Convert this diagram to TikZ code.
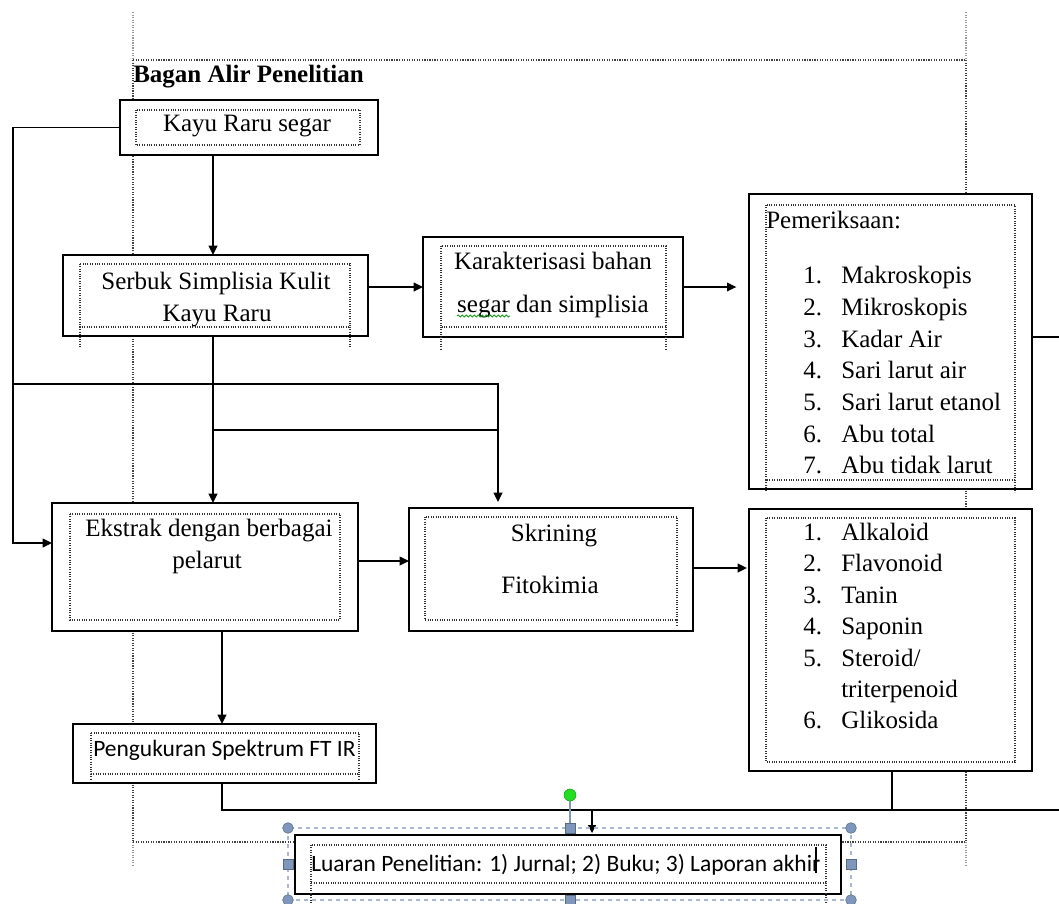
\documentclass[tikz,border=0pt]{standalone}
\usepackage{fontspec}
\setmainfont{Liberation Serif}
\newfontfamily\calfont{Carlito}
\usetikzlibrary{arrows.meta,fit,decorations.pathmorphing}
\definecolor{hblue}{HTML}{7F97BC}
\definecolor{selc}{HTML}{A9B9D3}
\definecolor{rotg}{HTML}{22DD22}
\begin{document}
\begin{tikzpicture}[x=0.75pt,y=-0.75pt,
 box/.style={draw=black,line width=1.3pt,fill=white,inner sep=0pt,outer sep=0pt},
 dotframe/.style={draw=black!80,densely dotted,line width=0.8pt},
 conn/.style={line width=1.1pt},
 arr/.style={conn,-{Triangle[length=7pt,width=6.5pt]}},
 tx/.style={font=\fontsize{18.75}{22}\selectfont,inner sep=0pt,anchor=base},
 txl/.style={tx,anchor=base west},
 sx/.style={font=\calfont\fontsize{17.6}{21}\selectfont,inner sep=0pt,anchor=base west},
 margin/.style={densely dotted,line width=0.9pt,black!75},
 marginx/.style={densely dotted,line width=0.9pt,black!40},
 handle/.style={fill=hblue,draw=hblue!70!black,line width=0.4pt},
]
\useasboundingbox (0,0) rectangle (1059,903);
\fill[white] (0,0) rectangle (1059,903);

% page margins
\draw[marginx] (133,12) -- (133,60);
\draw[margin] (133,60) -- (133,842);
\draw[marginx] (133,842) -- (133,867);
\draw[marginx] (966,12) -- (966,60);
\draw[margin] (966,60) -- (966,842);
\draw[marginx] (966,842) -- (966,867);
\draw[margin] (133,60) -- (966,60);
\draw[margin] (133,842) -- (966,842);

% title
\node[txl,font=\bfseries\fontsize{18.75}{22}\selectfont] (title) at (133,82) {Bagan Alir Penelitian};

% boxes
\node[box,fit={(120,100)(378,155)}] (kayu) {};
\node[box,fit={(63,255)(368,336)}] (serbuk) {};
\node[box,fit={(423,237)(683,337)}] (karak) {};
\node[box,fit={(749,194)(1032,489)}] (pem) {};
\node[box,fit={(52,503)(358,631)}] (ekstrak) {};
\node[box,fit={(409,508)(693,631)}] (skrin) {};
\node[box,fit={(749,509)(1032,771)}] (alk) {};
\node[box,fit={(73,724)(376,783)}] (peng) {};
\node[box,fit={(295,835)(841,894)}] (luaran) {};

% inner dotted text frames
\draw[dotframe] (136,110) rectangle (360,145);
\draw[dotframe] (80,264) rectangle (350,327);
\draw[dotframe] (80,327) -- (80,348) (350,327) -- (350,348);
\draw[dotframe] (441,246) rectangle (666,327);
\draw[dotframe] (441,327) -- (441,349) (666,327) -- (666,349);
\draw[dotframe] (766,205) rectangle (1015,480);
\draw[dotframe] (766,480) -- (766,490) (1015,480) -- (1015,492);
\draw[dotframe] (70,514) rectangle (340,620);
\draw[dotframe] (425,517) rectangle (677,620);
\draw[dotframe] (677,620) -- (677,627);
\draw[dotframe] (766,518) rectangle (1015,762);
\draw[dotframe] (91,733) rectangle (359,774);
\draw[dotframe] (91,774) -- (91,781) (359,774) -- (359,781);
\draw[dotframe] (311,845) rectangle (826,883);
\draw[dotframe] (311,883) -- (311,903) (826,883) -- (826,903);

% texts
\node[tx] (t-kayu) at (247,131) {Kayu Raru segar};
\node[tx] (t-serbuk1) at (216,289) {Serbuk Simplisia Kulit};
\node[tx] (t-serbuk2) at (217,321) {Kayu Raru};
\node[tx] (t-karak1) at (553,269) {Karakterisasi bahan};
\node[tx] (t-karak2) at (553,312) {segar dan simplisia};
\draw[rotg!70!black,line width=0.6pt,decorate,decoration={snake,segment length=3pt,amplitude=0.8pt}] (457,316) -- (510,316);
\node[txl] (t-pem) at (766,228) {Pemeriksaan:};
\foreach \y/\t [count=\i] in {283/Makroskopis,315/Mikroskopis,347/Kadar Air,378/Sari larut air,410/Sari larut etanol,442/Abu total,473/Abu tidak larut}
  \node[txl] (t-pem\i) at (803,\y) {\makebox[28.5pt][l]{\i.}\t};
\node[tx] (t-ek1) at (209,536) {Ekstrak dengan berbagai};
\node[tx] (t-ek2) at (207,568) {pelarut};
\node[tx] (t-sk1) at (554,541) {Skrining};
\node[tx] (t-sk2) at (550,593) {Fitokimia};
\node[txl] (t-a1) at (803,540) {\makebox[28.5pt][l]{1.}Alkaloid};
\node[txl] (t-a2) at (803,571) {\makebox[28.5pt][l]{2.}Flavonoid};
\node[txl] (t-a3) at (803,603) {\makebox[28.5pt][l]{3.}Tanin};
\node[txl] (t-a4) at (803,634) {\makebox[28.5pt][l]{4.}Saponin};
\node[txl] (t-a5) at (803,666) {\makebox[28.5pt][l]{5.}Steroid/};
\node[txl] (t-a5b) at (841,697) {triterpenoid};
\node[txl] (t-a6) at (803,728) {\makebox[28.5pt][l]{6.}Glikosida};
\node[sx] (t-peng) at (93,756) {Pengukuran Spektrum FT IR};
\node[sx] (t-luaran) at (311,871) {Luaran Penelitian: 1) Jurnal; 2) Buku; 3) Laporan akhir};
\draw[line width=1.6pt] (816,847) -- (816,873);

% helper coordinates
\coordinate (xA) at (213,0);
\coordinate (xL) at (13,0);
\coordinate (xS) at (498,0);
\coordinate (xE) at (222,0);
\coordinate (xR) at (892,0);
\coordinate (xD) at (592,0);
\coordinate (y384) at (0,384);
\coordinate (y430) at (0,430);
\coordinate (y543) at (0,543);
\coordinate (y561) at (0,561);
\coordinate (y568) at (0,568);
\coordinate (y810) at (0,810);
\coordinate (y337) at (0,337);
\coordinate (rEndA) at (1059,337);
\coordinate (rEndB) at (1059,810);

% connectors
\draw[arr] (kayu.south -| xA) -- (serbuk.north -| xA);
\draw[arr] (kayu.west) -- (kayu.west -| xL) -- (xL |- y543) -- (ekstrak.west |- y543);
\draw[arr] (serbuk.east |- karak.west) -- (karak.west);
\draw[arr,shorten >=9.5pt] (karak.east) -- (pem.west |- karak.east);
\draw[conn] (pem.east |- y337) -- (rEndA);
\draw[arr] (serbuk.south -| xA) -- (ekstrak.north -| xA);
\draw[arr,shorten >=4.5pt] (xL |- y384) -- (xS |- y384) -- (skrin.north -| xS);
\draw[conn] (xA |- y430) -- (xS |- y430);
\draw[arr] (ekstrak.east |- y561) -- (skrin.west |- y561);
\draw[arr,shorten >=1.5pt] (skrin.east |- y568) -- (alk.west |- y568);
\draw[arr] (ekstrak.south -| xE) -- (peng.north -| xE);
\draw[conn] (peng.south -| xE) -- (xE |- y810) -- (rEndB);
\draw[conn] (alk.south -| xR) -- (xR |- y810);
\draw[arr,shorten >=1.5pt,line width=0.8pt,-{Triangle[length=6pt,width=6pt]}] (xD |- y810) -- (luaran.north -| xD);

% selection frame and handles
\draw[selc,dashed,line width=0.8pt] (288,828) rectangle (851,900);
\draw[hblue,line width=0.8pt] (570,800) -- (570,828);
\fill[rotg,draw=rotg!70!black,line width=0.4pt] (570,795) circle[radius=4.5pt];
\foreach \p in {(288,828),(851,828),(288,900),(851,900)}
  \draw[handle] \p circle[radius=4pt];
\foreach \p in {(570,828),(288,864),(851,864),(570,900)}
  \draw[handle] \p ++(-5,-5) rectangle ++(10,10);
\end{tikzpicture}
\end{document}
